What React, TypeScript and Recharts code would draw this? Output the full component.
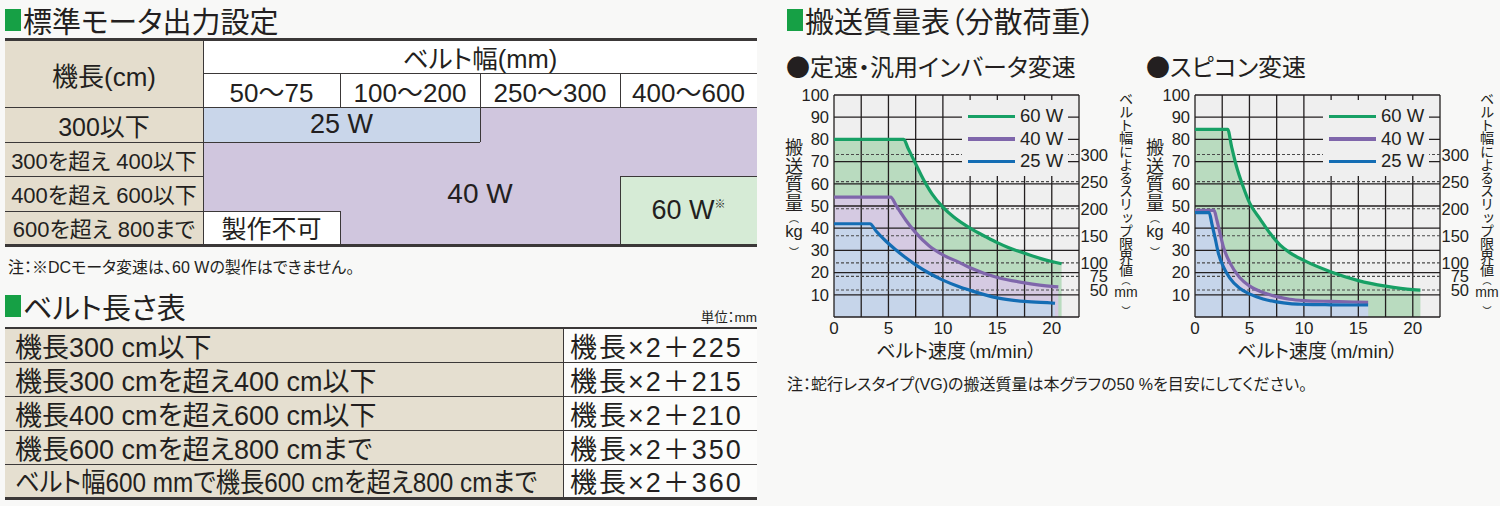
import React from 'react';
import { ComposedChart, Area, Line, XAxis, YAxis, CartesianGrid, ReferenceLine, Legend } from 'recharts';

const INK = '#231f20';
const FONT = '"Liberation Sans", "Noto Sans CJK JP", sans-serif';
const CJK = '"Noto Sans CJK JP", sans-serif';
const GREEN_MARK = '#16a045';

// motor output table
const BELT_WIDTHS = ['50～75', '100～200', '250～300', '400～600'];
const LENGTH_ROWS = ['300以下', '300を超え 400以下', '400を超え 600以下', '600を超え 800まで'];

// belt length table
const LENGTH_CASES = [
  '機長300 cm以下',
  '機長300 cmを超え400 cm以下',
  '機長400 cmを超え600 cm以下',
  '機長600 cmを超え800 cmまで',
  'ベルト幅600 mmで機長600 cmを超え800 cmまで',
];
const LENGTH_FORMULAS = ['機長×2＋225', '機長×2＋215', '機長×2＋210', '機長×2＋350', '機長×2＋360'];

// conveying mass charts: belt speed (m/min) -> mass (kg)
const SPEED_TICKS = [0, 5, 10, 15, 20];
const SPEED_GRID = [0, 2.5, 5, 7.5, 10, 12.5, 15, 17.5, 20, 22.5];
const MASS_GRID = [0, 10, 20, 30, 40, 50, 60, 70, 80, 90, 100];
const SLIP_TICKS = [50, 75, 100, 150, 200, 250, 300];
const SERIES = ['60 W', '40 W', '25 W'];
const LINE_COLORS = ['#17a065', '#7f66ab', '#146db4'];
const FILL_COLORS = ['#b9dbbf', '#d5cae2', '#c6d5ea'];

type Pt = { x: number; y: number };

// 定速・汎用インバータ変速
const inv60: Pt[] = [
  { x: 0, y: 80 }, { x: 6.4, y: 80 }, { x: 6.8, y: 76 }, { x: 7.2, y: 72 }, { x: 7.6, y: 68 },
  { x: 8, y: 64 }, { x: 9, y: 55.5 }, { x: 10, y: 49.5 }, { x: 11, y: 45 }, { x: 12.5, y: 40 },
  { x: 14, y: 36 }, { x: 15, y: 33.5 }, { x: 16, y: 31.3 }, { x: 17.5, y: 28.7 }, { x: 19, y: 26.3 },
  { x: 20, y: 25 }, { x: 20.9, y: 24 },
];
const inv40: Pt[] = [
  { x: 0, y: 54 }, { x: 5.2, y: 54 }, { x: 5.7, y: 50.3 }, { x: 6.2, y: 46.5 }, { x: 6.6, y: 43.6 },
  { x: 7.5, y: 38 }, { x: 8.75, y: 32 }, { x: 10, y: 28 }, { x: 11.5, y: 24.6 }, { x: 12.5, y: 22.2 },
  { x: 15, y: 17.8 }, { x: 17.5, y: 15.4 }, { x: 20, y: 13.8 }, { x: 20.6, y: 13.6 },
];
const inv25: Pt[] = [
  { x: 0, y: 42 }, { x: 3.3, y: 42 }, { x: 3.9, y: 38.5 }, { x: 4.8, y: 34 }, { x: 5.7, y: 30.2 },
  { x: 6.5, y: 27 }, { x: 7.5, y: 23.5 }, { x: 8.75, y: 19.7 }, { x: 10, y: 16.6 }, { x: 11.5, y: 13.6 },
  { x: 12.5, y: 12 }, { x: 15, y: 8.6 }, { x: 17.5, y: 7 }, { x: 20, y: 6.3 }, { x: 20.3, y: 6.2 },
];

// スピコン変速
const spc60: Pt[] = [
  { x: 0, y: 84.5 }, { x: 3, y: 84.5 }, { x: 3.35, y: 77 }, { x: 3.8, y: 68 }, { x: 4.4, y: 59 },
  { x: 5, y: 51.5 }, { x: 6, y: 44 }, { x: 7, y: 37 }, { x: 7.8, y: 32.5 }, { x: 8.7, y: 29 },
  { x: 10, y: 25.5 }, { x: 12.5, y: 20.3 }, { x: 15, y: 16.4 }, { x: 17.5, y: 13.9 }, { x: 20, y: 12.3 },
  { x: 20.7, y: 12.1 },
];
const spc40: Pt[] = [
  { x: 0, y: 48 }, { x: 1.75, y: 48 }, { x: 2, y: 43.8 }, { x: 2.3, y: 37.7 }, { x: 2.6, y: 31.7 },
  { x: 3.2, y: 24.5 }, { x: 4.1, y: 17.8 }, { x: 5, y: 14 }, { x: 6.25, y: 11 }, { x: 7.5, y: 9.2 },
  { x: 8.7, y: 8 }, { x: 10, y: 7.4 }, { x: 12.5, y: 7 }, { x: 15, y: 6.7 }, { x: 15.9, y: 6.6 },
];
const spc25: Pt[] = [
  { x: 0, y: 47 }, { x: 1.3, y: 47 }, { x: 1.55, y: 42 }, { x: 1.85, y: 35.5 }, { x: 2.15, y: 28.7 },
  { x: 2.6, y: 22.7 }, { x: 3.2, y: 17.5 }, { x: 4.1, y: 12.9 }, { x: 5, y: 10.4 }, { x: 6.25, y: 8.1 },
  { x: 7.5, y: 6.8 }, { x: 8.7, y: 6 }, { x: 10, y: 5.7 }, { x: 12.5, y: 5.5 }, { x: 15, y: 5.4 },
  { x: 15.9, y: 5.4 },
];

const Box = ({ x, y, w, h, bg, size, children, style }: any) => (
  <div
    style={{
      position: 'absolute', left: x, top: y, width: w, height: h, background: bg,
      display: 'flex', alignItems: 'center', justifyContent: 'center', whiteSpace: 'nowrap',
      fontSize: size, ...style,
    }}
  >
    {children}
  </div>
);
const HLine = ({ x1, x2, y, t = 1 }: any) => (
  <div style={{ position: 'absolute', left: x1, top: y, width: x2 - x1, height: t, background: '#3b3838' }} />
);
const VLine = ({ x, y1, y2 }: any) => (
  <div style={{ position: 'absolute', left: x, top: y1, width: 1, height: y2 - y1, background: '#3b3838' }} />
);

const Heading = ({ x, y, text }: any) => (
  <div style={{ position: 'absolute', left: x, top: y, height: 32, display: 'flex', alignItems: 'center', fontSize: 29, whiteSpace: 'nowrap' }}>
    <span style={{ display: 'inline-block', width: 16, height: 22, background: GREEN_MARK, marginRight: 2 }} />
    {text}
  </div>
);

// vertical axis title: stacked glyphs, then the unit upright between small brackets
const AxisTitle = ({ cx, top, main, unit, size, spacing, bracket, unitSize, unitGap }: any) => {
  const vertical = { writingMode: 'vertical-rl', fontFeatureSettings: 'normal', fontFamily: CJK } as any;
  const mainEnd = top + main.length * (size + spacing);
  const unitY = mainEnd + bracket + unitGap;
  return (
    <g fill={INK}>
      <text x={cx} y={top} fontSize={size} letterSpacing={spacing} style={vertical}>{main}</text>
      <text x={cx} y={mainEnd} fontSize={bracket} style={vertical}>（</text>
      <text x={cx} y={unitY} fontSize={unitSize} textAnchor="middle" dominantBaseline="central">{unit}</text>
      <text x={cx} y={unitY + unitGap + 0.5 * unitSize} fontSize={bracket} style={vertical}>）</text>
    </g>
  );
};

const SlipTick = (props: any) => {
  const { x, y, payload } = props;
  return (
    <text x={x + 29} y={y} dy="0.36em" textAnchor="end" fontSize={16.5} fill={INK}>
      {payload.value}
    </text>
  );
};

const LegendBox = () => (
  <div style={{ background: '#efefef', width: 106, height: 76, paddingTop: 5, boxSizing: 'border-box' }}>
    {SERIES.map((s, i) => (
      <div key={s} style={{ display: 'flex', alignItems: 'center', height: 22.5 }}>
        <span style={{ display: 'inline-block', width: 47, height: 3.5, background: LINE_COLORS[i], marginLeft: 6, marginRight: 5 }} />
        <span style={{ fontSize: 18.5, lineHeight: '22px', color: INK }}>{s}</span>
      </div>
    ))}
  </div>
);

function MassChart({ left, curves }: { left: number; curves: Pt[][] }) {
  return (
    <div style={{ position: 'absolute', left, top: 85, width: 360, height: 290 }}>
      {/* plot background and filled regions */}
      <div style={{ position: 'absolute', left: 0, top: 0 }}>
        <ComposedChart width={360} height={290} margin={{ top: 10, right: 61, bottom: 58, left: 54 }}>
          <CartesianGrid fill="#efefef" horizontal={false} vertical={false} />
          <XAxis type="number" dataKey="x" domain={[0, 22.5]} hide allowDataOverflow />
          <YAxis type="number" domain={[0, 100]} hide allowDataOverflow />
          {curves.map((c, i) => (
            <Area key={i} data={c} dataKey="y" type="monotone" stroke="none" fill={FILL_COLORS[i]} fillOpacity={1} isAnimationActive={false} />
          ))}
        </ComposedChart>
      </div>
      {/* grid, axes and lines above the fills */}
      <div style={{ position: 'absolute', left: 0, top: 0 }}>
        <ComposedChart width={360} height={290} margin={{ top: 10, right: 0, bottom: 0, left: 0 }}>
          <CartesianGrid stroke={INK} strokeWidth={1.3} />
          <XAxis
            type="number" dataKey="x" domain={[0, 22.5]} ticks={SPEED_GRID} interval={0} height={58} allowDataOverflow
            axisLine={false} tickLine={false} tickSize={0} tickMargin={5}
            tickFormatter={(v: number) => (SPEED_TICKS.includes(v) ? String(v) : '')}
            tick={{ fontSize: 17, fill: INK }}
            label={{ value: 'ベルト速度（m/min）', position: 'insideBottom', offset: 17, fontSize: 19, fill: INK }}
          />
          <YAxis
            type="number" domain={[0, 100]} ticks={MASS_GRID} interval={0} width={54} allowDataOverflow
            axisLine={false} tickLine={false} tickSize={0} tickMargin={5}
            tickFormatter={(v: number) => (v === 0 ? '' : String(v))}
            tick={{ fontSize: 16.5, fill: INK }}
            label={<AxisTitle cx={14} top={53.2} main="搬送質量" unit="kg" size={18} spacing={0.7} bracket={10} unitSize={16.5} unitGap={8} />}
          />
          <YAxis
            yAxisId="mm" orientation="right" type="number" domain={[0, 410]} ticks={SLIP_TICKS} interval={0} width={61}
            allowDataOverflow axisLine={false} tickLine={false} tickSize={0} tickMargin={0} tick={<SlipTick />}
            label={<AxisTitle cx={346} top={6.4} main="ベルト幅によるスリップ限界値" unit="mm" size={14.2} spacing={-1} bracket={9} unitSize={14} unitGap={7} />}
          />
          {SLIP_TICKS.map((v) => (
            <ReferenceLine key={v} yAxisId="mm" y={v} stroke="#4a4a4a" strokeWidth={1.1} strokeDasharray="3 2" />
          ))}
          {curves.map((c, i) => (
            <Line key={i} data={c} dataKey="y" name={SERIES[i]} type="monotone" stroke={LINE_COLORS[i]} strokeWidth={3.2} dot={false} isAnimationActive={false} />
          ))}
          <Legend
            layout="vertical" align="center" verticalAlign="middle" width={106} height={76}
            wrapperStyle={{ left: 182, top: 15, width: 106, height: 76 }}
            content={() => <LegendBox />}
          />
        </ComposedChart>
      </div>
    </div>
  );
}

export default function App() {
  const rowTops = [107.5, 141.5, 176, 210.5, 244];
  const colLefts = [203, 340, 480, 620, 757];
  const t2Tops = [329, 362.5, 396.5, 430.5, 464.5, 497];
  return (
    <div
      style={{
        position: 'absolute', left: 0, top: 0, width: 1500, height: 506, overflow: 'hidden',
        background: '#f8f8f7', color: INK, fontFamily: FONT, fontFeatureSettings: '"palt"',
      }}
    >
      {/* ■標準モータ出力設定 */}
      <Heading x={5} y={4} text="標準モータ出力設定" />
      <Box x={5} y={40.5} w={198} h={203.5} bg="#e4ddcd" />
      <Box x={203} y={40.5} w={554} h={67} bg="#ffffff" />
      <Box x={203} y={107.5} w={554} h={136.5} bg="#d0c6de" />
      <Box x={203} y={107.5} w={277} h={34} bg="#c9d6ea" size={27}>25 W</Box>
      <Box x={620} y={176.5} w={137} h={67.5} bg="#d6ebd6" size={27}>
        60 W<span style={{ fontSize: 11, alignSelf: 'flex-start', marginTop: 18 }}>※</span>
      </Box>
      <Box x={203} y={210.5} w={137} h={33.5} bg="#ffffff" size={25}>製作不可</Box>
      <Box x={420} y={176} w={120} h={36} size={28}>40 W</Box>
      <Box x={5} y={40.5} w={198} h={67} size={26}>機長(cm)</Box>
      <Box x={203} y={40.5} w={554} h={32} size={25.5}>ベルト幅(mm)</Box>
      {BELT_WIDTHS.map((s, i) => (
        <Box key={s} x={colLefts[i]} y={72.5} w={colLefts[i + 1] - colLefts[i]} h={35} size={26}>{s}</Box>
      ))}
      {LENGTH_ROWS.map((s, i) => (
        <Box key={s} x={5} y={rowTops[i]} w={198} h={rowTops[i + 1] - rowTops[i]} size={i === 0 ? 25 : 22}>{s}</Box>
      ))}
      <HLine x1={5} x2={757} y={38} t={2.5} />
      <HLine x1={203} x2={757} y={72.5} />
      <HLine x1={5} x2={757} y={107} />
      <HLine x1={5} x2={480} y={141.5} />
      <HLine x1={5} x2={203} y={176} />
      <HLine x1={620} x2={757} y={176} />
      <HLine x1={5} x2={340} y={210.5} />
      <HLine x1={5} x2={757} y={244} t={2.5} />
      <VLine x={203} y1={40.5} y2={244} />
      <VLine x={340} y1={72.5} y2={107} />
      <VLine x={340} y1={210.5} y2={244} />
      <VLine x={480} y1={72.5} y2={141.5} />
      <VLine x={620} y1={72.5} y2={107} />
      <VLine x={620} y1={176} y2={244} />
      <div style={{ position: 'absolute', left: 8, top: 254, fontSize: 16, whiteSpace: 'nowrap' }}>
        注：※DCモータ変速は、60 Wの製作はできません。
      </div>

      {/* ■ベルト長さ表 */}
      <Heading x={5} y={290} text="ベルト長さ表" />
      <div style={{ position: 'absolute', right: 743, top: 306, fontSize: 13.5, whiteSpace: 'nowrap' }}>単位：mm</div>
      {LENGTH_CASES.map((s, i) => (
        <React.Fragment key={s}>
          <Box x={5} y={t2Tops[i]} w={558} h={t2Tops[i + 1] - t2Tops[i]} bg="#e5dfd0" size={27} style={{ justifyContent: 'flex-start', paddingLeft: 10, boxSizing: 'border-box' }}>
            <span style={{ display: 'inline-block', transformOrigin: 'left center', transform: i === 4 ? 'scaleX(0.9)' : 'none' }}>{s}</span>
          </Box>
          <Box x={563} y={t2Tops[i]} w={194} h={t2Tops[i + 1] - t2Tops[i]} bg="#fcfcfb" size={27} style={{ justifyContent: 'flex-start', paddingLeft: 7, boxSizing: 'border-box', letterSpacing: 2 }}>{LENGTH_FORMULAS[i]}</Box>
        </React.Fragment>
      ))}
      <HLine x1={5} x2={757} y={326.5} t={2.5} />
      {[362, 396, 430, 464].map((y) => <HLine key={y} x1={5} x2={757} y={y} />)}
      <VLine x={563} y1={329} y2={497} />
      <HLine x1={5} x2={757} y={497} t={2.5} />

      {/* ■搬送質量表(分散荷重) */}
      <Heading x={787} y={4} text="搬送質量表（分散荷重）" />
      <div style={{ position: 'absolute', left: 786, top: 48, fontSize: 24, whiteSpace: 'nowrap' }}>
        <span style={{ fontFamily: CJK }}>●</span>定速・汎用インバータ変速
      </div>
      <div style={{ position: 'absolute', left: 1146, top: 48, fontSize: 24, whiteSpace: 'nowrap' }}>
        <span style={{ fontFamily: CJK }}>●</span>スピコン変速
      </div>
      <MassChart left={780} curves={[inv60, inv40, inv25]} />
      <MassChart left={1141} curves={[spc60, spc40, spc25]} />
      <div style={{ position: 'absolute', left: 787, top: 371, fontSize: 16, whiteSpace: 'nowrap' }}>
        注：蛇行レスタイプ(VG)の搬送質量は本グラフの50 %を目安にしてください。
      </div>
    </div>
  );
}
